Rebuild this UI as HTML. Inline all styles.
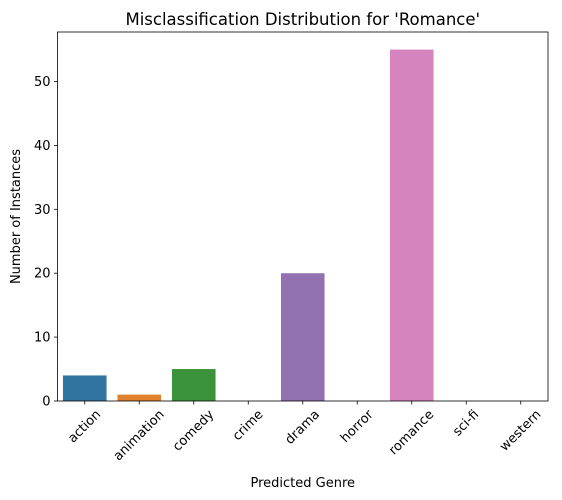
<!DOCTYPE html>
<html><head><meta charset="utf-8"><style>body{margin:0;background:#fff}svg{display:block}text{font-family:"DejaVu Sans","Liberation Sans",sans-serif;fill:#000}</style></head>
<body>
<svg id="c" width="562" height="500"></svg>
<script>
const categories=["action","animation","comedy","crime","drama","horror","romance","sci-fi","western"];
const values=[4,1,5,0,20,0,55,0,0];
const colors=["#3274a1","#e1812c","#3a923a","#c03d3e","#9372b2","#845b53","#d684bd","#7f7f7f","#a9aa35"];
const yTicks=[0,10,20,30,40,50];
const L=57.5,R=548,T=32,B=401,yMax=57.75;
const NS="http://www.w3.org/2000/svg",svg=document.getElementById('c');
const step=(R-L)/categories.length;
const x=i=>L+step*(i+0.5);
const y=v=>B-(v/yMax)*(B-T);
function mk(t,a,txt){const e=document.createElementNS(NS,t);for(const k in a)e.setAttribute(k,a[k]);if(txt!==undefined)e.textContent=txt;svg.appendChild(e);return e;}
values.forEach((v,i)=>{const r=mk('rect',{x:x(i)-step*0.4,y:y(v),width:step*0.8,height:B-y(v),fill:colors[i]});

});
yTicks.forEach(t=>{mk('line',{x1:L-3.5,x2:L,y1:y(t),y2:y(t),stroke:'#000','stroke-width':0.8});
const tx=mk('text',{x:L-7,y:y(t)+4.5,'text-anchor':'end','font-size':13},t);

});
categories.forEach((c,i)=>{mk('line',{x1:x(i),x2:x(i),y1:B,y2:B+3.5,stroke:'#000','stroke-width':0.8});
const tx=mk('text',{x:0,y:0,'text-anchor':'middle','dominant-baseline':'central','font-size':13},c);
const w=tx.getComputedTextLength(),h=13;
const s=(w+h)/Math.SQRT2;
const cx=x(i),cy=B+7+s/2;
tx.setAttribute('x',cx);tx.setAttribute('y',cy);
tx.setAttribute('transform',`rotate(-45 ${cx} ${cy})`);

});
mk('rect',{x:L,y:T,width:R-L,height:B-T,fill:'none',stroke:'#000','stroke-width':0.8});
const t1=mk('text',{x:(L+R)/2,y:T-7,'text-anchor':'middle','font-size':16.5},"Misclassification Distribution for 'Romance'");

const t2=mk('text',{x:(L+R)/2,y:487,'text-anchor':'middle','font-size':13},"Predicted Genre");

const t3=mk('text',{x:20,y:(T+B)/2,'text-anchor':'middle','font-size':13,transform:`rotate(-90 20 ${(T+B)/2})`},"Number of Instances");

</script>
</body></html>
